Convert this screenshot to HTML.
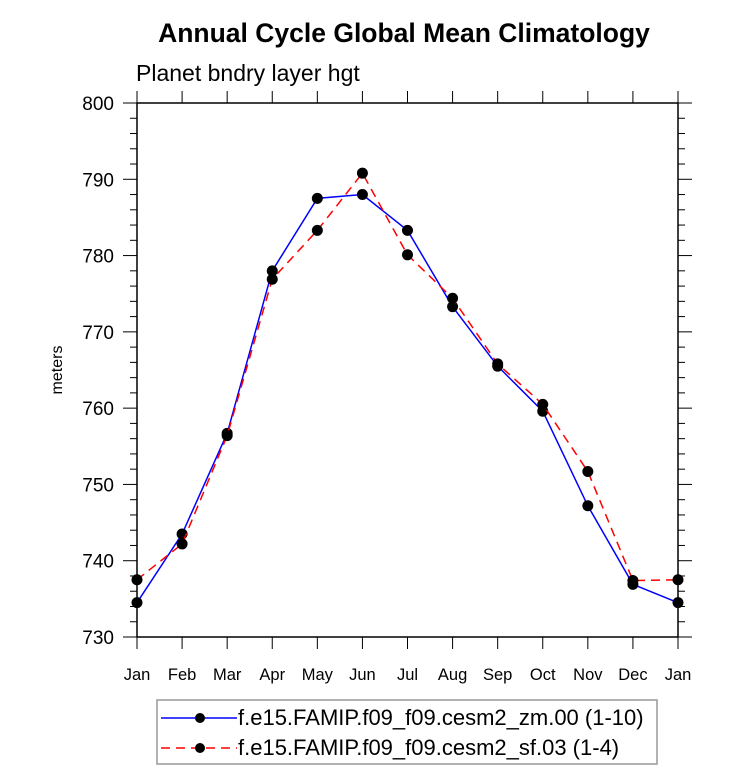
<!DOCTYPE html>
<html><head><meta charset="utf-8"><style>
html,body{margin:0;padding:0;background:#fff;}
svg{display:block;font-family:"Liberation Sans",Arial,sans-serif;}
</style></head><body>
<svg id="chart" width="733" height="776" viewBox="0 0 733 776">
<text x="404" y="42" text-anchor="middle" font-size="26.5" font-weight="bold">Annual Cycle Global Mean Climatology</text>
<text x="136" y="81" font-size="23">Planet bndry layer hgt</text>
<text transform="translate(62,370) rotate(-90)" text-anchor="middle" font-size="16">meters</text>
<g id="axes"></g>
<g id="series"></g>
<rect x="157" y="700" width="500" height="64" fill="none" stroke="#999" stroke-width="1.5"/>
<g>
<line x1="161" y1="718" x2="237" y2="718" stroke="#0000ff" stroke-width="1.5"/>
<circle cx="200" cy="718" r="5" fill="#000"/>
<text x="238" y="725" font-size="22">f.e15.FAMIP.f09_f09.cesm2_zm.00 (1-10)</text>
</g>
<g>
<line x1="161" y1="748" x2="237" y2="748" stroke="#ff0000" stroke-width="1.5" stroke-dasharray="9,6"/>
<circle cx="200" cy="748" r="5" fill="#000"/>
<text x="238" y="755" font-size="22">f.e15.FAMIP.f09_f09.cesm2_sf.03 (1-4)</text>
</g>
</svg>
<script>
const months = ["Jan","Feb","Mar","Apr","May","Jun","Jul","Aug","Sep","Oct","Nov","Dec","Jan"];
const zmValues = [734.5,743.5,756.7,778.0,787.5,788.0,783.3,773.3,765.5,759.6,747.2,736.9,734.5];
const sfValues = [737.5,742.2,756.4,776.9,783.3,790.8,780.1,774.4,765.8,760.5,751.7,737.4,737.5];
const yTicks = [730,740,750,760,770,780,790,800];
const NS="http://www.w3.org/2000/svg";
const L=137,R=678,T=103,B=637,ymin=730,ymax=800;
function xs(i){return L+(R-L)*i/(months.length-1);}
function ys(v){return B-(v-ymin)/(ymax-ymin)*(B-T);}
function mk(tag,attrs,parent){const e=document.createElementNS(NS,tag);for(const k in attrs)e.setAttribute(k,attrs[k]);parent.appendChild(e);return e;}
const ax=document.getElementById('axes');
const frame=mk('rect',{x:L,y:T,width:R-L,height:B-T,fill:'none',stroke:'#000','stroke-width':1.5},ax);


for(let v=ymin;v<=ymax;v+=2){
  const y=ys(v);const major=(v%10===0);const len=major?14:7;
  mk('line',{x1:L-len,y1:y,x2:L,y2:y,stroke:'#000','stroke-width':1},ax);
  mk('line',{x1:R,y1:y,x2:R+len,y2:y,stroke:'#000','stroke-width':1},ax);
}
yTicks.forEach(v=>{
  const t=mk('text',{x:L-23,y:ys(v)+7,'text-anchor':'end','font-size':19},ax);
  t.textContent=v;
  
  
});
months.forEach((m,i)=>{
  const x=xs(i);
  mk('line',{x1:x,y1:B,x2:x,y2:B+12,stroke:'#000','stroke-width':1},ax);
  mk('line',{x1:x,y1:T-12,x2:x,y2:T,stroke:'#000','stroke-width':1},ax);
  const t=mk('text',{x:x,y:B+43,'text-anchor':'middle','font-size':16.5},ax);
  t.textContent=m;
  
  
});
const sg=document.getElementById('series');
function draw(vals,color,dash,name){
  const pts=vals.map((v,i)=>xs(i)+','+ys(v)).join(' ');
  const pl=mk('polyline',{points:pts,fill:'none',stroke:color,'stroke-width':1.5},sg);
  if(dash)pl.setAttribute('stroke-dasharray',dash);
  
  
  vals.forEach((v,i)=>{
    const c=mk('circle',{cx:xs(i),cy:ys(v),r:5.5,fill:'#000'},sg);
    
    
  });
}
draw(zmValues,'#0000ff',null,'zm');
draw(sfValues,'#ff0000','9,6','sf');
</script>
</body></html>
